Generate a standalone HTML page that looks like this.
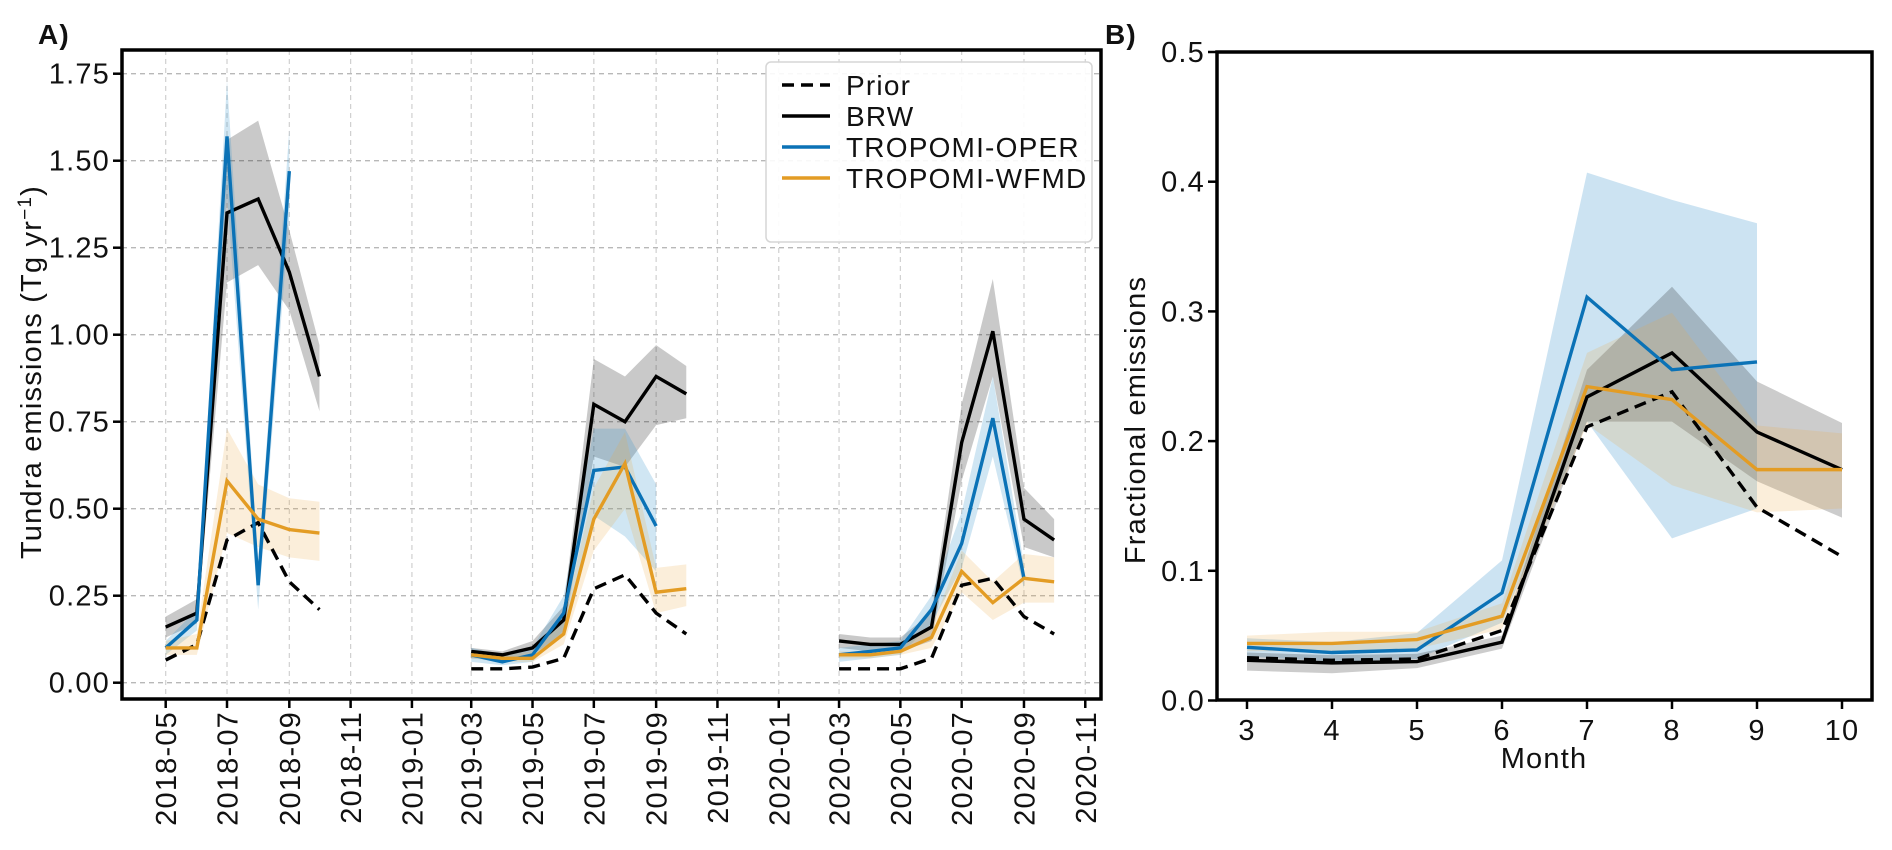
<!DOCTYPE html>
<html><head><meta charset="utf-8">
<style>
body{margin:0;background:#fff;}
svg text{font-family:"Liberation Sans",Arial,sans-serif;fill:#111;letter-spacing:1.2px;}
</style></head>
<body>
<svg id="chart" width="1892" height="845" viewBox="0 0 1892 845" xmlns="http://www.w3.org/2000/svg">
<text x="38" y="44" font-size="28" font-weight="bold">A)</text>
<text x="1105" y="44" font-size="28" font-weight="bold">B)</text>
<g id="pa"></g>
<g id="pb"></g>
</svg>
<script>
// ---------- Panel A data ----------
const monthsA18 = [5,6,7,8,9,10];
const monthsA19 = [3,4,5,6,7,8,9,10];
const monthsA20 = [3,4,5,6,7,8,9,10];
const priorA18 = [0.065,0.11,0.41,0.46,0.29,0.21];
const brwA18 = [0.16,0.20,1.35,1.39,1.18,0.88];
const brwLoA18 = [0.13,0.17,1.15,1.20,1.07,0.78];
const brwHiA18 = [0.19,0.24,1.56,1.615,1.30,0.97];
const operA18 = [0.10,0.18,1.57,0.28,1.47];
const operLoA18 = [0.08,0.15,1.40,0.21,1.34];
const operHiA18 = [0.12,0.21,1.73,0.35,1.59];
const wfmdA18 = [0.10,0.10,0.58,0.47,0.44,0.43];
const wfmdLoA18 = [0.08,0.08,0.43,0.39,0.36,0.35];
const wfmdHiA18 = [0.12,0.14,0.73,0.57,0.53,0.52];

const priorA19 = [0.04,0.04,0.045,0.07,0.27,0.31,0.20,0.14];
const brwA19 = [0.09,0.08,0.10,0.18,0.80,0.75,0.88,0.83];
const brwLoA19 = [0.07,0.07,0.08,0.14,0.65,0.62,0.74,0.76];
const brwHiA19 = [0.10,0.09,0.12,0.22,0.93,0.88,0.97,0.91];
const operA19 = [0.08,0.06,0.08,0.20,0.61,0.62,0.45];
const operLoA19 = [0.06,0.05,0.06,0.15,0.48,0.42,0.32];
const operHiA19 = [0.10,0.08,0.10,0.25,0.73,0.73,0.57];
const wfmdA19 = [0.08,0.07,0.07,0.14,0.47,0.63,0.26,0.27];
const wfmdLoA19 = [0.07,0.06,0.06,0.11,0.38,0.50,0.20,0.22];
const wfmdHiA19 = [0.09,0.08,0.09,0.18,0.56,0.72,0.33,0.34];

const priorA20 = [0.04,0.04,0.04,0.07,0.28,0.30,0.19,0.14];
const brwA20 = [0.12,0.11,0.11,0.16,0.69,1.01,0.47,0.41];
const brwLoA20 = [0.10,0.09,0.09,0.12,0.58,0.88,0.39,0.36];
const brwHiA20 = [0.14,0.13,0.13,0.20,0.80,1.16,0.56,0.47];
const operA20 = [0.08,0.09,0.10,0.21,0.40,0.76,0.30];
const operLoA20 = [0.06,0.07,0.08,0.17,0.33,0.65,0.27];
const operHiA20 = [0.10,0.11,0.12,0.25,0.49,0.88,0.34];
const wfmdA20 = [0.08,0.08,0.09,0.13,0.32,0.23,0.30,0.29];
const wfmdLoA20 = [0.07,0.07,0.08,0.10,0.26,0.18,0.23,0.23];
const wfmdHiA20 = [0.09,0.09,0.10,0.16,0.38,0.29,0.37,0.36];

const yTicksA = [0,0.25,0.5,0.75,1.0,1.25,1.5,1.75];
const yTickLabelsA = ["0.00","0.25","0.50","0.75","1.00","1.25","1.50","1.75"];
const xTickLabelsA = ["2018-05","2018-07","2018-09","2018-11","2019-01","2019-03","2019-05","2019-07","2019-09","2019-11","2020-01","2020-03","2020-05","2020-07","2020-09","2020-11"];

// ---------- Panel B data ----------
const monthsB = [3,4,5,6,7,8,9,10];
const priorB = [0.033,0.031,0.032,0.054,0.211,0.238,0.149,0.111];
const brwB = [0.031,0.029,0.030,0.045,0.234,0.268,0.207,0.178];
const brwLoB = [0.023,0.021,0.025,0.040,0.215,0.215,0.169,0.141];
const brwHiB = [0.037,0.035,0.036,0.050,0.255,0.319,0.246,0.214];
const operB = [0.041,0.037,0.039,0.083,0.311,0.255,0.261];
const operLoB = [0.034,0.030,0.032,0.060,0.215,0.125,0.148];
const operHiB = [0.048,0.045,0.052,0.108,0.407,0.386,0.368];
const wfmdB = [0.044,0.044,0.047,0.065,0.242,0.232,0.178,0.178];
const wfmdLoB = [0.038,0.038,0.040,0.055,0.213,0.166,0.145,0.148];
const wfmdHiB = [0.050,0.053,0.053,0.075,0.268,0.299,0.212,0.206];
const yTicksB = [0,0.1,0.2,0.3,0.4,0.5];
const yTickLabelsB = ["0.0","0.1","0.2","0.3","0.4","0.5"];
const xTicksB = [3,4,5,6,7,8,9,10];

const NS="http://www.w3.org/2000/svg";
const BLUE="#0b72b6", ORANGE="#e39c24";
const FS=29;
function mk(parent,tag,attrs){const e=document.createElementNS(NS,tag);for(const k in attrs)e.setAttribute(k,attrs[k]);parent.appendChild(e);return e;}

// Panel A geometry
const A={l:122,r:1101,t:50,b:699};
const day0=Date.UTC(2018,4,1);
function xA(y,m){return 165.7+(Date.UTC(y,m-1,1)-day0)/86400000*1.005;}
function yA(v){return 682.7-348*v;}
const pa=document.getElementById('pa');

yTicksA.forEach((v,i)=>{
  const g=mk(pa,'line',{x1:A.l,x2:A.r,y1:yA(v),y2:yA(v),stroke:'#b8b8b8','stroke-width':1.3,'stroke-dasharray':'5,4'});
  
  
});
xTickLabelsA.forEach((lab,i)=>{
  const yy=+lab.slice(0,4), mm=+lab.slice(5);
  const x=xA(yy,mm);
  const g=mk(pa,'line',{x1:x,x2:x,y1:A.t,y2:A.b,stroke:'#d0d0d0','stroke-width':1.2,'stroke-dasharray':'5,4'});
  
  
  const t=mk(pa,'line',{x1:x,x2:x,y1:A.b,y2:A.b+9,stroke:'#000','stroke-width':2.5});
  
  
  const tx=mk(pa,'text',{x:0,y:0,'font-size':FS,'text-anchor':'end',transform:`translate(${x+10.5},${A.b+12}) rotate(-90)`});
  tx.textContent=lab;
  
  
});
yTicksA.forEach((v,i)=>{
  const t=mk(pa,'line',{x1:A.l-9,x2:A.l,y1:yA(v),y2:yA(v),stroke:'#000','stroke-width':2.5});
  
  
  const tx=mk(pa,'text',{x:A.l-12,y:yA(v)+10,'font-size':FS,'text-anchor':'end'});
  tx.textContent=yTickLabelsA[i];
  
  
});
const ylab=mk(pa,'text',{x:0,y:0,'font-size':FS,'text-anchor':'middle',transform:`translate(41,372) rotate(-90)`});
ylab.innerHTML='Tundra emissions (Tg yr<tspan dy="-10" font-size="19">−1</tspan><tspan dy="10">)</tspan>';



function bandA(year,months,lo,hi,fill,name){
  const pts=[];
  for(let i=0;i<lo.length;i++)pts.push(xA(year,months[i])+','+yA(hi[i]));
  for(let i=lo.length-1;i>=0;i--)pts.push(xA(year,months[i])+','+yA(lo[i]));
  const p=mk(pa,'polygon',{points:pts.join(' '),fill:fill,stroke:'none'});
  
  
}
function lineA(year,months,vals,color,dash,name){
  const pts=vals.map((v,i)=>xA(year,months[i])+','+yA(v)).join(' ');
  const a={points:pts,fill:'none',stroke:color,'stroke-width':3.4,'stroke-linejoin':'miter'};
  if(dash)a['stroke-dasharray']=dash;
  const p=mk(pa,'polyline',a);
  
  
}
const yearsA=[
 [2018,monthsA18,priorA18,brwA18,brwLoA18,brwHiA18,operA18,operLoA18,operHiA18,wfmdA18,wfmdLoA18,wfmdHiA18],
 [2019,monthsA19,priorA19,brwA19,brwLoA19,brwHiA19,operA19,operLoA19,operHiA19,wfmdA19,wfmdLoA19,wfmdHiA19],
 [2020,monthsA20,priorA20,brwA20,brwLoA20,brwHiA20,operA20,operLoA20,operHiA20,wfmdA20,wfmdLoA20,wfmdHiA20]];
yearsA.forEach(d=>{
  bandA(d[0],d[1],d[4],d[5],'rgba(0,0,0,0.21)','brw-band-'+d[0]);
  bandA(d[0],d[1],d[7],d[8],'rgba(40,140,200,0.22)','oper-band-'+d[0]);
  bandA(d[0],d[1],d[10],d[11],'rgba(235,170,70,0.2)','wfmd-band-'+d[0]);
});
yearsA.forEach(d=>{
  lineA(d[0],d[1],d[2],'#000','12,7','prior-line-'+d[0]);
  lineA(d[0],d[1],d[3],'#000',null,'brw-line-'+d[0]);
  lineA(d[0],d[1],d[6],BLUE,null,'oper-line-'+d[0]);
  lineA(d[0],d[1],d[9],ORANGE,null,'wfmd-line-'+d[0]);
});
const fa=mk(pa,'rect',{x:A.l,y:A.t,width:A.r-A.l,height:A.b-A.t,fill:'none',stroke:'#000','stroke-width':3.5});



// legend
const lg=mk(pa,'g',{});


mk(lg,'rect',{x:766,y:62,width:326,height:180,rx:5,fill:'rgba(255,255,255,0.9)',stroke:'#d6d6d6','stroke-width':1.5});
const legItems=[['Prior','#000','12,7'],['BRW','#000',null],['TROPOMI-OPER',BLUE,null],['TROPOMI-WFMD',ORANGE,null]];
legItems.forEach((it,i)=>{
  const y=85+i*31;
  const e=mk(lg,'g',{});
  
  
  const a={x1:782,x2:830,y1:y,y2:y,stroke:it[1],'stroke-width':3.4};
  if(it[2])a['stroke-dasharray']=it[2];
  mk(e,'line',a);
  const t=mk(e,'text',{x:846,y:y+10,'font-size':28});
  t.textContent=it[0];
});

// Panel B
const B={l:1217,r:1872,t:52,b:700};
function xB(m){return 1247+(m-3)*85;}
function yB(v){return 700.5-1297*v;}
const pb=document.getElementById('pb');
function bandB(lo,hi,fill,name){
  const pts=[];
  for(let i=0;i<lo.length;i++)pts.push(xB(monthsB[i])+','+yB(hi[i]));
  for(let i=lo.length-1;i>=0;i--)pts.push(xB(monthsB[i])+','+yB(lo[i]));
  const p=mk(pb,'polygon',{points:pts.join(' '),fill:fill});
  
  
}
function lineB(vals,color,dash,name){
  const a={points:vals.map((v,i)=>xB(monthsB[i])+','+yB(v)).join(' '),fill:'none',stroke:color,'stroke-width':3.4};
  if(dash)a['stroke-dasharray']=dash;
  const p=mk(pb,'polyline',a);
  
  
}
bandB(operLoB,operHiB,'rgba(40,140,200,0.24)','oper-band-b');
bandB(brwLoB,brwHiB,'rgba(0,0,0,0.2)','brw-band-b');
bandB(wfmdLoB,wfmdHiB,'rgba(235,170,70,0.2)','wfmd-band-b');
lineB(priorB,'#000','12,7','prior-line-b');
lineB(brwB,'#000',null,'brw-line-b');
lineB(operB,BLUE,null,'oper-line-b');
lineB(wfmdB,ORANGE,null,'wfmd-line-b');
const fb=mk(pb,'rect',{x:B.l,y:B.t,width:B.r-B.l,height:B.b-B.t,fill:'none',stroke:'#000','stroke-width':3.5});


yTicksB.forEach((v,i)=>{
  const t=mk(pb,'line',{x1:B.l-9,x2:B.l,y1:yB(v),y2:yB(v),stroke:'#000','stroke-width':2.5});
  
  
  const tx=mk(pb,'text',{x:B.l-12,y:yB(v)+10,'font-size':FS,'text-anchor':'end'});
  tx.textContent=yTickLabelsB[i];
  
  
});
xTicksB.forEach(m=>{
  const t=mk(pb,'line',{x1:xB(m),x2:xB(m),y1:B.b,y2:B.b+9,stroke:'#000','stroke-width':2.5});
  
  
  const tx=mk(pb,'text',{x:xB(m),y:740,'font-size':FS,'text-anchor':'middle'});
  tx.textContent=String(m);
  
  
});
const xl=mk(pb,'text',{x:1544,y:768,'font-size':FS,'text-anchor':'middle'});
xl.textContent='Month';


const yl=mk(pb,'text',{x:0,y:0,'font-size':FS,'text-anchor':'middle',transform:'translate(1145,420) rotate(-90)'});
yl.textContent='Fractional emissions';


</script>
</body></html>
